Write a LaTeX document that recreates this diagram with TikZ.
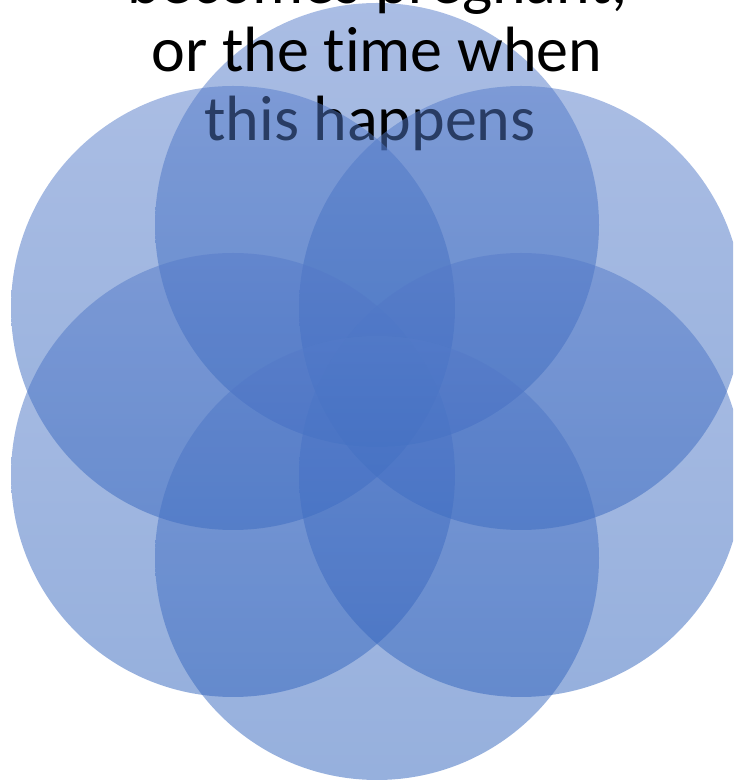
\documentclass[tikz,border=0pt]{standalone}
\usepackage{fontspec}
\setmainfont{Carlito}[Ligatures=NoCommon]
\begin{document}
\begin{tikzpicture}[x=1pt,y=1pt,
  petal/.style={top color=pcTop, bottom color=pcBot, fill opacity=0.5, draw=none},
  txt/.style={anchor=base, inner sep=0pt, font=\fontsize{64}{68}\selectfont, text=black}]
\definecolor{pcTop}{RGB}{85,123,201}
\definecolor{pcBot}{RGB}{45,97,187}
\useasboundingbox (0,0) rectangle (733,781);
\clip (0,0) rectangle (733,781);
\shade[petal] (377,556) circle (222);
\node[txt] (l1) at (377,777) {becomes pregnant,};
\node[txt] (l2) at (377,709) {or the time when};
\node[txt] (l3) at (370,640) {this happens};
\shade[petal] (233,473) circle (222);
\shade[petal] (521,473) circle (222);
\shade[petal] (233,306) circle (222);
\shade[petal] (521,306) circle (222);
\shade[petal] (377,223) circle (222);
\end{tikzpicture}
\end{document}
